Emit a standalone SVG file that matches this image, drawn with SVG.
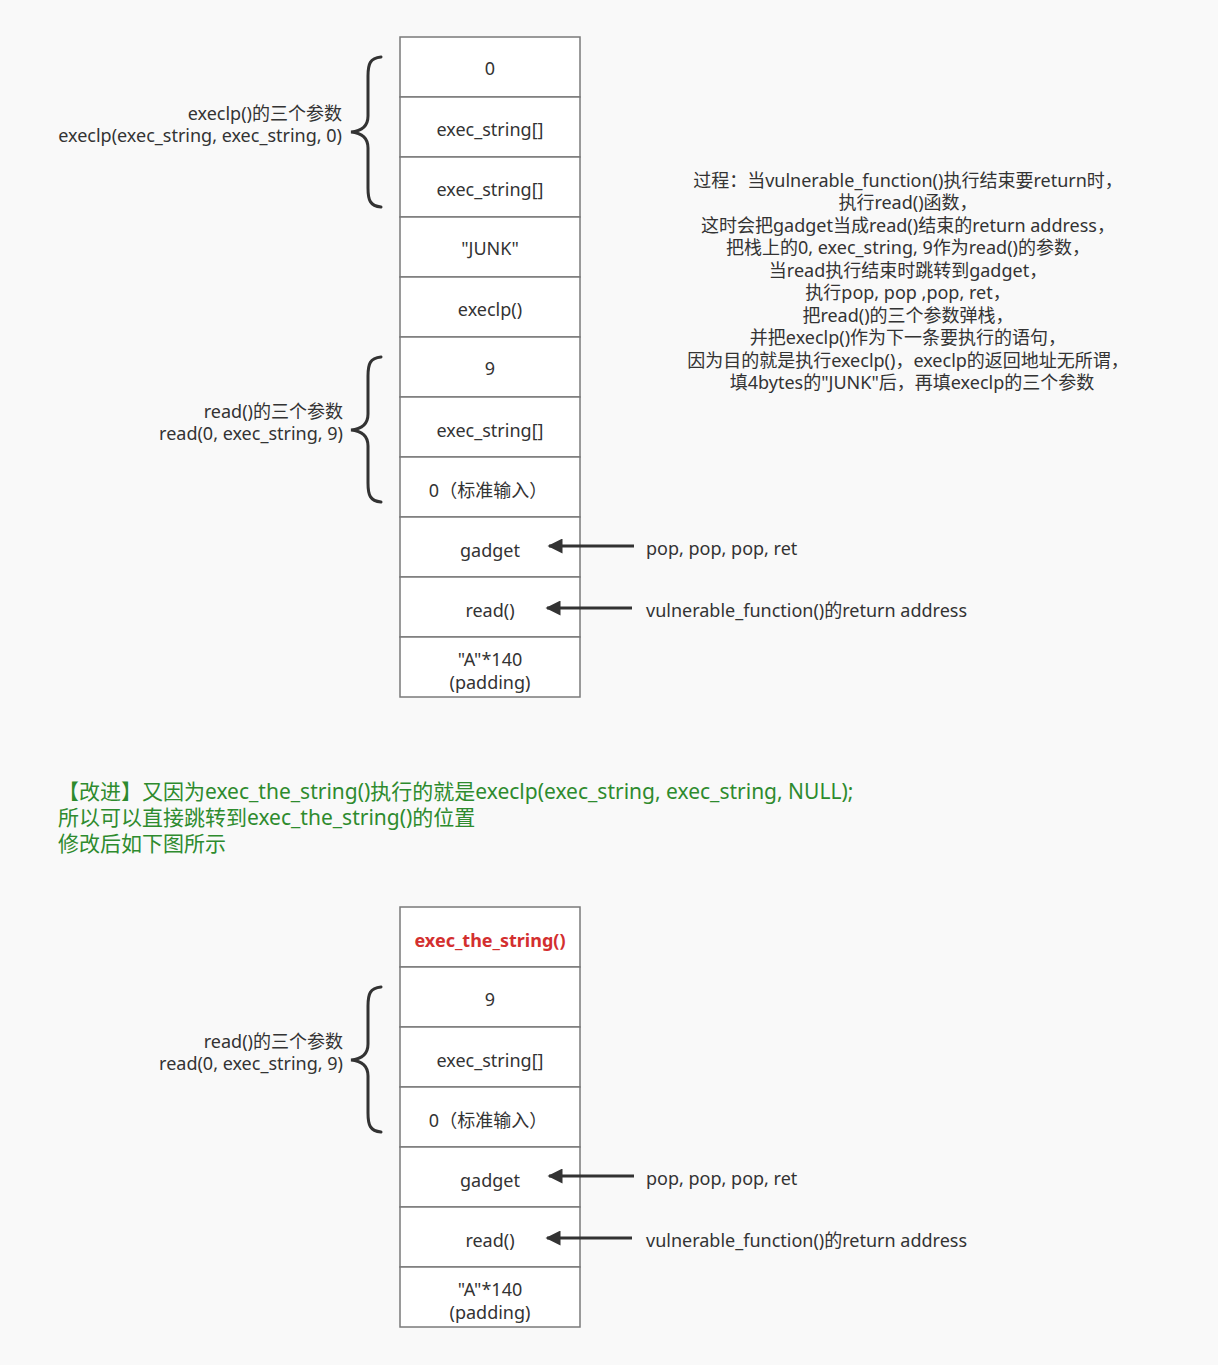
<svg xmlns="http://www.w3.org/2000/svg" width="1218" height="1365" viewBox="0 0 1218 1365">
<defs>
<style>
.bg{fill:#f9f9f9}
.cell{fill:#ffffff;stroke:#7a7a7a;stroke-width:1.5}
text{font-family:"Noto Sans","Noto Sans CJK SC",sans-serif;font-size:18px;fill:#333333}
.c{text-anchor:middle;dominant-baseline:central}
.r{text-anchor:end;dominant-baseline:central}
.l{text-anchor:start;dominant-baseline:central}
.brace{fill:none;stroke:#333333;stroke-width:3;stroke-linecap:round}
.arr{stroke:#333333;stroke-width:3;fill:none}
.g{fill:#2e8b2e;font-size:21px}
.red{fill:#d32f2f;font-weight:bold}
</style>
<marker id="ah" viewBox="0 0 10 10" refX="9" refY="5" markerWidth="8" markerHeight="5" markerUnits="strokeWidth" orient="auto">
<path d="M0,0 L10,5 L0,10 Z" fill="#333333"/>
</marker>
</defs>
<rect class="bg" x="0" y="0" width="1218" height="1365"/>

<g id="stack1">
<g id="s1-0"><rect class="cell" x="400" y="37" width="180" height="60"/><text class="c" x="490" y="68">0</text></g>
<g id="s1-1"><rect class="cell" x="400" y="97" width="180" height="60"/><text class="c" x="490" y="129">exec_string[]</text></g>
<g id="s1-2"><rect class="cell" x="400" y="157" width="180" height="60"/><text class="c" x="490" y="189">exec_string[]</text></g>
<g id="s1-3"><rect class="cell" x="400" y="217" width="180" height="60"/><text class="c" x="490" y="248">"JUNK"</text></g>
<g id="s1-4"><rect class="cell" x="400" y="277" width="180" height="60"/><text class="c" x="490" y="309">execlp()</text></g>
<g id="s1-5"><rect class="cell" x="400" y="337" width="180" height="60"/><text class="c" x="490" y="368">9</text></g>
<g id="s1-6"><rect class="cell" x="400" y="397" width="180" height="60"/><text class="c" x="490" y="430">exec_string[]</text></g>
<g id="s1-7"><rect class="cell" x="400" y="457" width="180" height="60"/><text class="c" x="488" y="490">0（标准输入）</text></g>
<g id="s1-8"><rect class="cell" x="400" y="517" width="180" height="60"/><text class="c" x="490" y="550">gadget</text></g>
<g id="s1-9"><rect class="cell" x="400" y="577" width="180" height="60"/><text class="c" x="490" y="610">read()</text></g>
<g id="s1-10"><rect class="cell" x="400" y="637" width="180" height="60"/><text class="c" x="490" y="659">"A"*140</text><text class="c" x="490" y="682">(padding)</text></g>
</g>

<g id="stack2">
<g id="s2-0"><rect class="cell" x="400" y="907" width="180" height="60"/><text class="c red" x="490" y="940">exec_the_string()</text></g>
<g id="s2-1"><rect class="cell" x="400" y="967" width="180" height="60"/><text class="c" x="490" y="999">9</text></g>
<g id="s2-2"><rect class="cell" x="400" y="1027" width="180" height="60"/><text class="c" x="490" y="1060">exec_string[]</text></g>
<g id="s2-3"><rect class="cell" x="400" y="1087" width="180" height="60"/><text class="c" x="488" y="1120">0（标准输入）</text></g>
<g id="s2-4"><rect class="cell" x="400" y="1147" width="180" height="60"/><text class="c" x="490" y="1180">gadget</text></g>
<g id="s2-5"><rect class="cell" x="400" y="1207" width="180" height="60"/><text class="c" x="490" y="1240">read()</text></g>
<g id="s2-6"><rect class="cell" x="400" y="1267" width="180" height="60"/><text class="c" x="490" y="1289">"A"*140</text><text class="c" x="490" y="1312">(padding)</text></g>
</g>

<g id="connectors">
<path class="brace" d="M381,57 C370,58 368,64 368,76 L368,116 C368,126 362,131 351,132 C362,133 368,138 368,148 L368,188 C368,200 370,206 381,207"/>
<path class="brace" d="M381,357 C370,358 368,364 368,376 L368,414 C368,424 362,429 351,430 C362,431 368,436 368,446 L368,483 C368,495 370,501 381,502"/>
<path class="brace" d="M381,987 C370,988 368,994 368,1006 L368,1044 C368,1054 362,1059 351,1060 C362,1061 368,1066 368,1076 L368,1113 C368,1125 370,1131 381,1132"/>
<line class="arr" x1="634" y1="546" x2="549" y2="546" marker-end="url(#ah)"/>
<line class="arr" x1="632" y1="608" x2="547" y2="608" marker-end="url(#ah)"/>
<line class="arr" x1="634" y1="1176" x2="549" y2="1176" marker-end="url(#ah)"/>
<line class="arr" x1="632" y1="1238" x2="547" y2="1238" marker-end="url(#ah)"/>
</g>

<g id="labels">
<text class="r" x="342" y="113">execlp()的三个参数</text>
<text class="r" x="342" y="135">execlp(exec_string, exec_string, 0)</text>
<text class="r" x="343" y="411">read()的三个参数</text>
<text class="r" x="343" y="433">read(0, exec_string, 9)</text>
<text class="r" x="343" y="1041">read()的三个参数</text>
<text class="r" x="343" y="1063">read(0, exec_string, 9)</text>
<text class="l" x="646" y="548">pop, pop, pop, ret</text>
<text class="l" x="646" y="610">vulnerable_function()的return address</text>
<text class="l" x="646" y="1178">pop, pop, pop, ret</text>
<text class="l" x="646" y="1240">vulnerable_function()的return address</text>
</g>

<g id="note">
<text class="c" x="908" y="180">过程：当vulnerable_function()执行结束要return时，</text>
<text class="c" x="908" y="202">执行read()函数，</text>
<text class="c" x="908" y="225">这时会把gadget当成read()结束的return address，</text>
<text class="c" x="908" y="247">把栈上的0, exec_string, 9作为read()的参数，</text>
<text class="c" x="908" y="270">当read执行结束时跳转到gadget，</text>
<text class="c" x="908" y="292">执行pop, pop ,pop, ret，</text>
<text class="c" x="908" y="315">把read()的三个参数弹栈，</text>
<text class="c" x="908" y="337">并把execlp()作为下一条要执行的语句，</text>
<text class="c" x="908" y="360">因为目的就是执行execlp()，execlp的返回地址无所谓，</text>
<text class="c" x="912" y="382">填4bytes的"JUNK"后，再填execlp的三个参数</text>
</g>

<g id="improve">
<text class="l g" x="58" y="791">【改进】又因为exec_the_string()执行的就是execlp(exec_string, exec_string, NULL);</text>
<text class="l g" x="58" y="817">所以可以直接跳转到exec_the_string()的位置</text>
<text class="l g" x="58" y="843">修改后如下图所示</text>
</g>
</svg>
